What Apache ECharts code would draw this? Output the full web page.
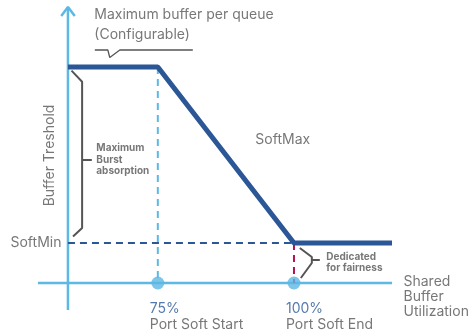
<!DOCTYPE html>
<html>
<head>
<meta charset="utf-8">
<script src="https://cdn.jsdelivr.net/npm/echarts@6/dist/echarts.min.js"></script>
<style>
html, body { margin: 0; padding: 0; background: #fff; }
#chart { width: 469px; height: 334px; }
</style>
</head>
<body>
<div id="chart"></div>
<script>
// x in % shared buffer utilization, y in units of SoftMin
var curveX = [58.5, 75, 100, 118];
var curveY = [5.4, 5.4, 1, 1];
var softMin = 1;
var markerX = [75, 100];
var markerPct = ['75%', '100%'];
var markerName = ['Port Soft Start', 'Port Soft End'];
var axisXRange = [53, 118];
var axisYRange = [-0.675, 6.9];
var yAxisAt = 58.5;

// annotation shapes (data units)
var arrowX = [57.27, 58.5, 59.75];
var arrowY = [6.675, 6.9, 6.675];
var calloutX = [63.43, 65.82, 66.18, 68.02, 81.43];
var calloutY = [5.825, 5.825, 5.6375, 5.825, 5.825];
var burstX = [59.15, 61.1, 61.1, 59.43];
var burstY = [5.31, 5.03, 1.375, 1.16];
var burstTickX = [61.1, 62.88];
var burstTickY = [3.075, 3.075];
var fairX = [101.07, 103.28, 103.28, 101.26];
var fairY = [0.875, 0.65, 0.5, 0.125];
var fairTickX = [103.28, 104.75];
var fairTickY = [0.575, 0.575];

var LIGHT = '#5cb8e4';
var DARK = '#2b5797';
var RED = '#b3124f';
var GRAY = '#555555';
var FONT = 'Inter';

function pts(xs, ys) {
	var out = [];
	for (var i = 0; i < xs.length; i++) out.push([xs[i], ys[i]]);
	return out;
}
function seg(data, color, width, type, z) {
	return {
		type: 'line', data: data, symbol: 'none', silent: true, z: z || 2,
		lineStyle: { color: color, width: width, type: type || 'solid', cap: 'butt' }
	};
}
function note(x, y, text, label) {
	var l = Object.assign({
		show: true, formatter: text, position: [0, 0], color: GRAY,
		fontFamily: FONT, fontSize: 14, align: 'left', verticalAlign: 'middle'
	}, label || {});
	return { value: [x, y], label: l };
}

var chart = echarts.init(document.getElementById('chart'));
chart.setOption({
	animation: false,
	grid: { left: 38, right: 77, top: 3, bottom: 24 },
	xAxis: { type: 'value', min: axisXRange[0], max: axisXRange[1], show: false },
	yAxis: { type: 'value', min: -0.675, max: 7.0, show: false },
	series: [
		// axes
		seg([[axisXRange[0], 0], [axisXRange[1], 0]], LIGHT, 2.5, 'solid', 1),
		seg([[yAxisAt, axisYRange[0]], [yAxisAt, axisYRange[1]]], LIGHT, 2.5, 'solid', 1),
		seg(pts(arrowX, arrowY), LIGHT, 2.5, 'solid', 1),
		// guides
		seg([[yAxisAt, softMin], [markerX[1], softMin]], DARK, 2, [7, 5], 2),
		seg([[markerX[0], curveY[0]], [markerX[0], 0]], LIGHT, 2, [7, 5], 2),
		seg([[markerX[1], softMin], [markerX[1], 0]], RED, 2, [7, 5], 2),
		// threshold curve
		seg(pts(curveX, curveY), DARK, 5, 'solid', 5),
		// brackets and callout
		seg(pts(calloutX, calloutY), GRAY, 1.3, 'solid', 3),
		seg(pts(burstX, burstY), GRAY, 2, 'solid', 3),
		seg(pts(burstTickX, burstTickY), GRAY, 2, 'solid', 3),
		seg(pts(fairX, fairY), GRAY, 2, 'solid', 3),
		seg(pts(fairTickX, fairTickY), GRAY, 2, 'solid', 3),
		// markers on x axis
		{
			type: 'scatter', z: 6, silent: true,
			symbolSize: 13, itemStyle: { color: LIGHT },
			data: markerX.map(function (x, i) {
				return {
					value: [x, 0],
					label: {
						show: true, position: [-1.5, 24.5], align: 'left', verticalAlign: 'top',
						formatter: '{a|' + markerPct[i] + '}\n{b|' + markerName[i] + '}',
						rich: {
							a: { color: DARK, fontFamily: FONT, fontSize: 14, lineHeight: 16 },
							b: { color: GRAY, fontFamily: FONT, fontSize: 14, lineHeight: 16 }
						}
					}
				};
			})
		},
		// text notes
		{
			type: 'scatter', z: 7, silent: true,
			symbolSize: 1, itemStyle: { color: 'rgba(0,0,0,0)' },
			data: [
				note(63.43, 6.45, 'Maximum buffer per queue\n(Configurable)', { lineHeight: 20 }),
				note(93.0, 3.575, 'SoftMax'),
				note(55.17, 3.175, 'Buffer Treshold', { rotate: 90, align: 'center' }),
				note(63.8, 3.075, 'Maximum\nBurst\nabsorption', { fontSize: 10, fontWeight: 'bold', lineHeight: 11.5 }),
				note(106.03, 0.5, 'Dedicated\nfor fairness', { fontSize: 10, fontWeight: 'bold', lineHeight: 11.5 }),
				note(yAxisAt, softMin, 'SoftMin', { align: 'right', position: [-6, 0] }),
				note(axisXRange[1], 0, 'Shared\nBuffer\nUtilization', { position: [12, 14], lineHeight: 15 })
			]
		}
	]
});
</script>
</body>
</html>
